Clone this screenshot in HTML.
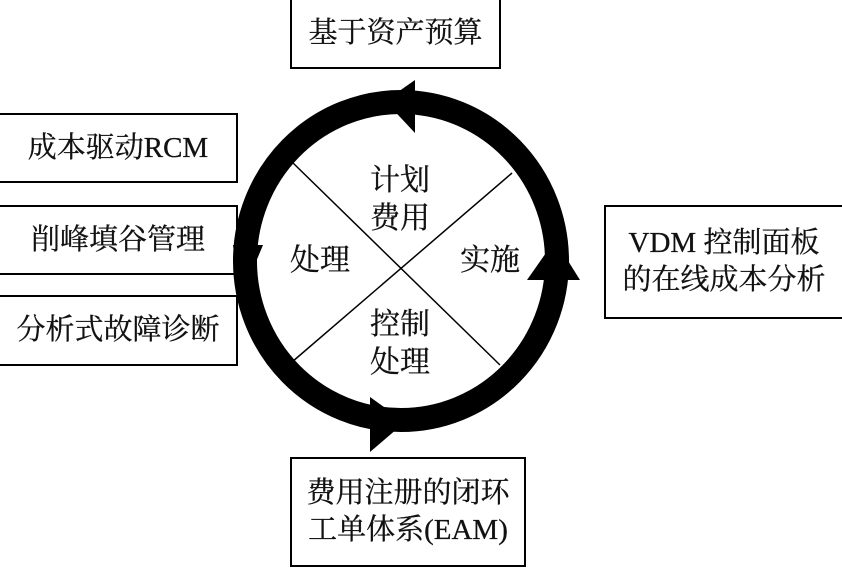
<!DOCTYPE html>
<html><head><meta charset="utf-8"><style>
body{margin:0;background:#fff;}
.b{position:absolute;border:2px solid #000;background:#fff;box-sizing:border-box;font-family:"Liberation Serif","Noto Serif CJK SC",serif;font-size:29px;color:#111;display:flex;align-items:center;justify-content:center;text-align:center;line-height:37px;-webkit-text-stroke:0.3px #111;}
.t{position:absolute;font-family:"Liberation Serif","Noto Serif CJK SC",serif;font-size:30px;color:#111;line-height:38px;text-align:center;-webkit-text-stroke:0.3px #111;}
</style></head><body>
<div style="position:relative;width:842px;height:571px;overflow:hidden">
<div class="b" style="left:290px;top:0;width:211px;height:69px;border-top:none">基于资产预算</div>
<div class="b" style="left:-2px;top:113px;width:240px;height:70px">成本驱动RCM</div>
<div class="b" style="left:-2px;top:205px;width:240px;height:70px">削峰填谷管理</div>
<div class="b" style="left:-2px;top:295px;width:240px;height:71px">分析式故障诊断</div>
<div class="b" style="left:604px;top:205px;width:240px;height:114px">VDM 控制面板<br>的在线成本分析</div>
<div class="b" style="left:290px;top:457px;width:236px;height:110px">费用注册的闭环<br>工单体系(EAM)</div>
<svg style="position:absolute;left:0;top:0" width="842" height="571">
<line x1="292" y1="162" x2="500" y2="365" stroke="#000" stroke-width="1.5"/>
<line x1="512" y1="173" x2="292" y2="362" stroke="#000" stroke-width="1.5"/>
<ellipse cx="401" cy="261" rx="156" ry="159" fill="none" stroke="#000" stroke-width="24"/>
<polygon points="415,80 415,133 385,101" fill="#000"/>
<polygon points="527,280 580,280 555,240" fill="#000"/>
<polygon points="370,397 370,452 405,422" fill="#000"/>
<polygon points="233,245 263,245 240,300" fill="#000"/>
</svg>
<div class="t" style="left:350px;top:162px;width:100px">计划<br>费用</div>
<div class="t" style="left:270px;top:242px;width:100px">处理</div>
<div class="t" style="left:440px;top:242px;width:100px">实施</div>
<div class="t" style="left:350px;top:306px;width:100px">控制<br>处理</div>
</div>
</body></html>
